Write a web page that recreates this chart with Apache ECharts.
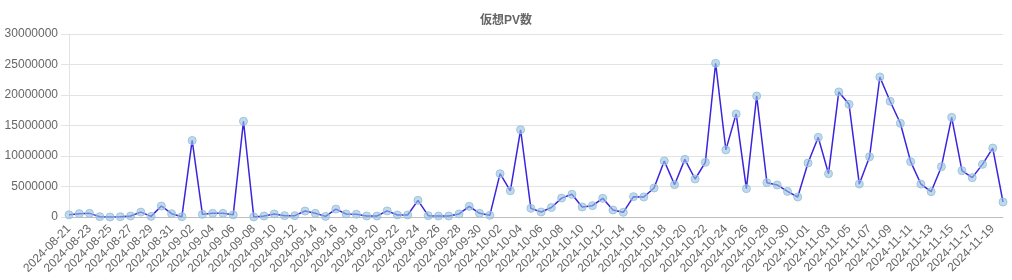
<!DOCTYPE html>
<html>
<head>
<meta charset="utf-8">
<script src="https://cdn.jsdelivr.net/npm/echarts@6/dist/echarts.min.js"></script>
<style>
html,body{margin:0;padding:0;background:#fff;}
#c{width:1012px;height:280px;}
</style>
</head>
<body>
<div id="c"></div>
<script>
var titleText = '仮想PV数';
var categories = [
'2024-08-21','2024-08-22','2024-08-23','2024-08-24','2024-08-25','2024-08-26','2024-08-27','2024-08-28','2024-08-29','2024-08-30','2024-08-31',
'2024-09-01','2024-09-02','2024-09-03','2024-09-04','2024-09-05','2024-09-06','2024-09-07','2024-09-08','2024-09-09','2024-09-10',
'2024-09-11','2024-09-12','2024-09-13','2024-09-14','2024-09-15','2024-09-16','2024-09-17','2024-09-18','2024-09-19','2024-09-20',
'2024-09-21','2024-09-22','2024-09-23','2024-09-24','2024-09-25','2024-09-26','2024-09-27','2024-09-28','2024-09-29','2024-09-30',
'2024-10-01','2024-10-02','2024-10-03','2024-10-04','2024-10-05','2024-10-06','2024-10-07','2024-10-08','2024-10-09','2024-10-10',
'2024-10-11','2024-10-12','2024-10-13','2024-10-14','2024-10-15','2024-10-16','2024-10-17','2024-10-18','2024-10-19','2024-10-20',
'2024-10-21','2024-10-22','2024-10-23','2024-10-24','2024-10-25','2024-10-26','2024-10-27','2024-10-28','2024-10-29','2024-10-30','2024-10-31',
'2024-11-01','2024-11-02','2024-11-03','2024-11-04','2024-11-05','2024-11-06','2024-11-07','2024-11-08','2024-11-09','2024-11-10',
'2024-11-11','2024-11-12','2024-11-13','2024-11-14','2024-11-15','2024-11-16','2024-11-17','2024-11-18','2024-11-19','2024-11-20'
];
var pvValues = [
350000, 550000, 600000, 60000, 0, 50000, 160000, 800000, 100000, 1800000, 540000,
50000, 12550000, 440000, 600000, 600000, 350000, 15700000, 20000, 160000, 500000,
220000, 220000, 980000, 600000, 100000, 1300000, 500000, 450000, 160000, 160000,
1000000, 330000, 330000, 2730000, 220000, 160000, 160000, 500000, 1750000, 600000,
270000, 7100000, 4300000, 14300000, 1420000, 820000, 1550000, 3100000, 3720000, 1640000,
1860000, 3060000, 1150000, 770000, 3330000, 3280000, 4750000, 9180000, 5300000, 9450000,
6230000, 8960000, 25200000, 11000000, 16900000, 4650000, 19840000, 5630000, 5250000, 4200000, 3280000,
8850000, 13060000, 7100000, 20500000, 18470000, 5400000, 9870000, 22950000, 18970000, 15360000,
9070000, 5400000, 4150000, 8250000, 16340000, 7600000, 6450000, 8630000, 11300000, 2460000
];
var yMin = 0, yMax = 30000000, yInterval = 5000000;

var chart = echarts.init(document.getElementById('c'), null, {renderer:'canvas'});
chart.setOption({
  animation: false,
  textStyle: {fontFamily: 'Liberation Sans, Arial, sans-serif'},
  title: {
    text: titleText, left: 'center', top: 10,
    textStyle: {fontSize: 12, fontWeight: 'bold', color: '#666', fontFamily: 'Liberation Sans, Noto Sans CJK JP, sans-serif'}
  },
  grid: {left: 69, right: 9, top: 34, bottom: 63, containLabel: false},
  xAxis: {
    type: 'category', data: categories, boundaryGap: false,
    axisLine: {show: true, lineStyle: {color: '#bdbdbd', width: 1}},
    axisTick: {show: false},
    axisLabel: {rotate: 45, interval: 1, color: '#666', fontSize: 12, margin: 10},
    splitLine: {show: false}
  },
  yAxis: {
    type: 'value', min: yMin, max: yMax, interval: yInterval,
    axisLine: {show: true, lineStyle: {color: '#e3e3e3', width: 1}},
    axisTick: {show: true, length: 8, lineStyle: {color: '#e3e3e3'}},
    axisLabel: {color: '#666', fontSize: 12, margin: 11, formatter: function (v) { return String(v); }},
    splitLine: {show: true, lineStyle: {color: '#e3e3e3', width: 1}}
  },
  series: [{
    type: 'line', data: pvValues,
    symbol: 'circle', symbolSize: 8, showSymbol: true, showAllSymbol: true,
    lineStyle: {color: '#3b24dd', width: 1.5},
    itemStyle: {color: 'rgba(151,194,222,0.6)', borderColor: 'rgba(151,194,222,0.9)', borderWidth: 1}
  }]
});
</script>
</body>
</html>
